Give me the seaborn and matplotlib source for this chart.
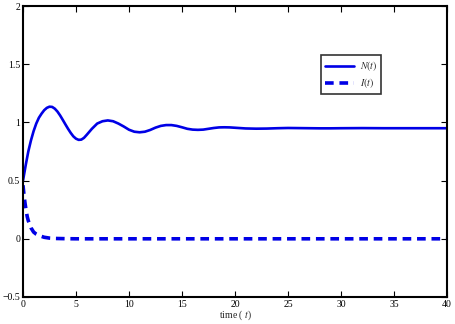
import numpy as np
import pandas as pd
import matplotlib
matplotlib.use("Agg")
import matplotlib.pyplot as plt
import seaborn as sns

# --- data ---
t_N = [0, 0.25, 0.5, 0.75, 1.0, 1.25, 1.5, 1.75, 2.0, 2.25, 2.5, 2.75, 3.0, 3.25,
       3.5, 3.75, 4.0, 4.25, 4.5, 4.75, 5.0, 5.25, 5.5, 5.75, 6.0, 6.5, 7.0, 7.5,
       8.0, 8.5, 9.0, 9.5, 10.0, 10.5, 11.0, 11.5, 12.0, 12.5, 13.0, 13.5, 14.0,
       14.5, 15.0, 15.5, 16.0, 16.5, 17.0, 17.5, 18.0, 18.5, 19.0, 19.5, 20.0,
       21, 22, 23, 24, 25, 26, 27, 28, 29, 30, 32, 34, 36, 38, 40]
N_vals = [0.5, 0.63, 0.75, 0.845, 0.925, 0.99, 1.04, 1.075, 1.105, 1.125, 1.135,
          1.133, 1.118, 1.093, 1.06, 1.022, 0.983, 0.945, 0.91, 0.88, 0.86, 0.85,
          0.852, 0.867, 0.892, 0.945, 0.99, 1.01, 1.017, 1.01, 0.99, 0.965, 0.937,
          0.92, 0.915, 0.92, 0.935, 0.955, 0.97, 0.977, 0.977, 0.97, 0.958,
          0.945, 0.938, 0.936, 0.938, 0.945, 0.952, 0.957, 0.958, 0.957, 0.954,
          0.948, 0.946, 0.947, 0.95, 0.952, 0.951, 0.95, 0.949, 0.949, 0.95,
          0.951, 0.95, 0.95, 0.95, 0.95]

t_I = [0, 0.1, 0.2, 0.3, 0.4, 0.5, 0.75, 1.0, 1.25, 1.5, 2.0, 2.5, 3.0, 4.0, 5.0,
       10, 20, 30, 40]
I_vals = [0.46, 0.37, 0.3, 0.24, 0.19, 0.155, 0.095, 0.058, 0.04, 0.028, 0.013,
          0.006, 0.003, 0.001, 0.0, 0.0, 0.0, 0.0, 0.0]

x_ticks = [0, 5, 10, 15, 20, 25, 30, 35, 40]
y_ticks = [-0.5, 0, 0.5, 1, 1.5, 2]
y_tick_labels = ["\u22120.5", "0", "0.5", "1", "1.5", "2"]

dfN = pd.DataFrame({"t": t_N, "v": N_vals})
dfI = pd.DataFrame({"t": t_I, "v": I_vals})

sns.set_theme(style="white")
plt.rcParams["font.family"] = ["Liberation Serif", "DejaVu Serif"]
plt.rcParams["mathtext.fontset"] = "stix"

fig = plt.figure(figsize=(4.56, 3.24), dpi=100)
ax = fig.add_axes([23 / 456, 1 - 297 / 324, 424 / 456, 291 / 324])

sns.lineplot(data=dfN, x="t", y="v", ax=ax, color="#0000e6", linewidth=1.9,
             label="$N(t)$")
sns.lineplot(data=dfI, x="t", y="v", ax=ax, color="#0000e6", linewidth=2.6,
             label="$I(t)$")
ax.lines[1].set_dashes([2.4, 1.6])

ax.set_xlim(0, 40)
ax.set_ylim(-0.5, 2)
ax.set_xticks(x_ticks)
ax.set_xticklabels([str(v) for v in x_ticks])
ax.set_yticks(y_ticks)
ax.set_yticklabels(y_tick_labels)
ax.tick_params(direction="in", length=4, width=0.8, labelsize=7, top=True,
               right=True, bottom=True, left=True, pad=2, colors="black")
for s in ax.spines.values():
    s.set_visible(True)
    s.set_color("black")
    s.set_linewidth(1.5)

ax.set_xlabel("time ( $t$)", fontsize=7, labelpad=0)
ax.set_ylabel("")

leg = ax.legend(loc="upper left", bbox_to_anchor=(0.703, 0.83), fontsize=7,
                frameon=True, fancybox=False, edgecolor="black",
                handlelength=3.0, borderpad=0.4, labelspacing=0.3,
                handletextpad=0.6, borderaxespad=0)
leg.get_frame().set_linewidth(1.2)

fig.savefig("out.png", dpi=100)
